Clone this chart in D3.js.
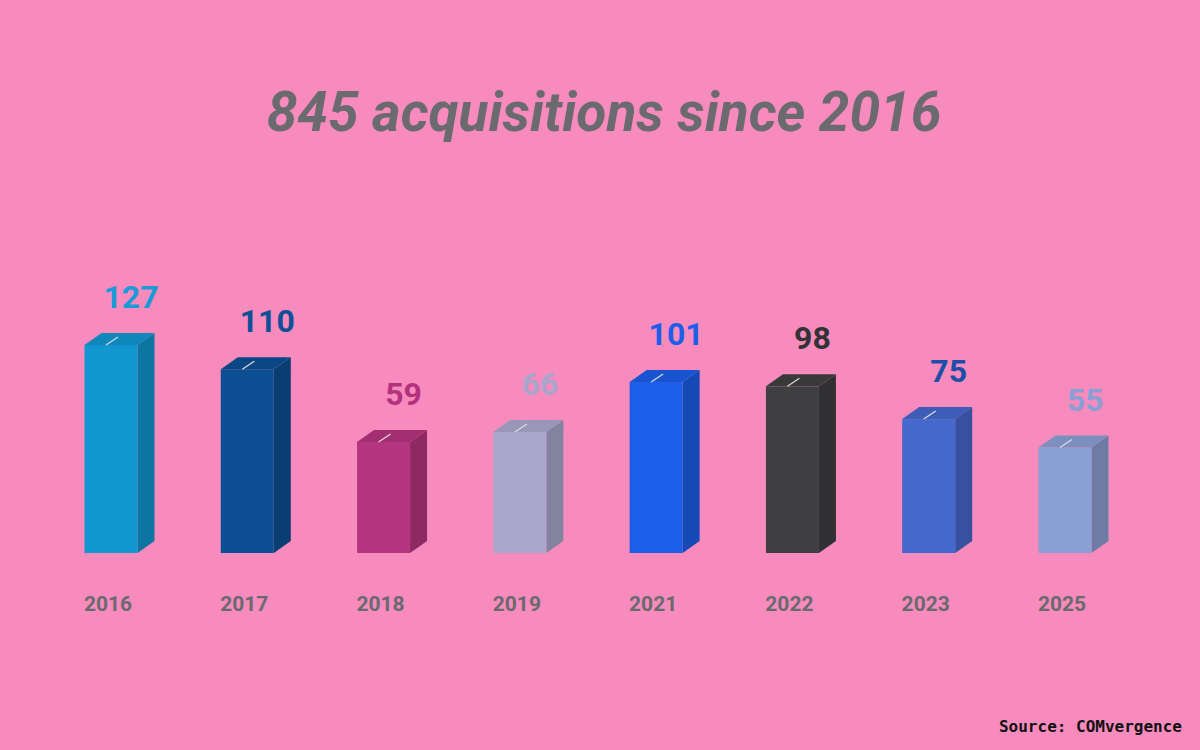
<!DOCTYPE html>
<html>
<head>
<script src="https://d3js.org/d3.v7.min.js"></script>
<style>
  body { margin: 0; background: #f78bbd; }
</style>
</head>
<body>
<div id="viz"></div>
<script>
var years = ["2016", "2017", "2018", "2019", "2021", "2022", "2023", "2025"];
var counts = [127, 110, 59, 66, 101, 98, 75, 55];
var colors = ["#1196d0", "#0d4f94", "#b5347f", "#a9a8cc", "#1b5ee8", "#3f3f41", "#4468cc", "#8a9fd3"];
var labelColors = ["#1a9ad6", "#0f4f96", "#b2327d", "#a8a6cc", "#1d5ee8", "#333335", "#1d4fa8", "#8a9fd3"];

var W = 1200, H = 750;
var svg = d3.select("#viz").append("svg").attr("width", W).attr("height", H);
svg.append("rect").attr("width", W).attr("height", H).attr("fill", "#f78bbd");

var x = d3.scalePoint().domain(years).range([111, 1065]);
var y = d3.scaleLinear().domain([0, 127]).range([526, 345]);
var base = 553, bw = 53, dx = 17, dy = 12;

svg.append("text").attr("x", 604).attr("y", 131).attr("text-anchor", "middle")
  .style("font-family", "Roboto").style("font-style", "italic").style("font-weight", "bold")
  .style("font-size", "55px").attr("fill", "#6b6a6e").text("845 acquisitions since 2016");

var g = svg.selectAll("g.bar").data(years).enter().append("g");

g.each(function (d, i) {
  var s = d3.select(this);
  var x0 = x(d) - bw / 2, top = y(counts[i]);
  var c = d3.color(colors[i]);
  s.append("path").attr("fill", c.darker(0.7))
    .attr("d", "M" + (x0 + bw) + "," + top + "l" + dx + "," + (-dy) + "V" + (base - dy) + "l" + (-dx) + "," + dy + "Z");
  s.append("path").attr("fill", c.darker(0.3))
    .attr("d", "M" + x0 + "," + top + "l" + dx + "," + (-dy) + "h" + bw + "l" + (-dx) + "," + dy + "Z");
  s.append("rect").attr("x", x0).attr("y", top).attr("width", bw).attr("height", base - top).attr("fill", colors[i]);
  s.append("line").attr("x1", x0 + bw / 2 - 5).attr("y1", top).attr("x2", x0 + bw / 2 + 7).attr("y2", top - 8)
    .attr("stroke", "#dddddd").attr("stroke-width", 1.2);
  s.append("text").attr("x", x(d) + 20).attr("y", top - 37).attr("text-anchor", "middle")
    .style("font-family", "Roboto").style("font-weight", "bold").style("font-size", "32px")
    .attr("fill", labelColors[i]).text(counts[i]);
  s.append("text").attr("x", x(d) - 3).attr("y", 611).attr("text-anchor", "middle")
    .style("font-family", "Roboto").style("font-weight", "bold").style("font-size", "21px")
    .attr("fill", "#6a6a6e").text(d);
});

svg.append("text").attr("x", 1182).attr("y", 732).attr("text-anchor", "end")
  .style("font-family", "DejaVu Sans Mono").style("font-weight", "bold").style("font-size", "16px")
  .attr("fill", "#111").text("Source: COMvergence");
</script>
</body>
</html>
